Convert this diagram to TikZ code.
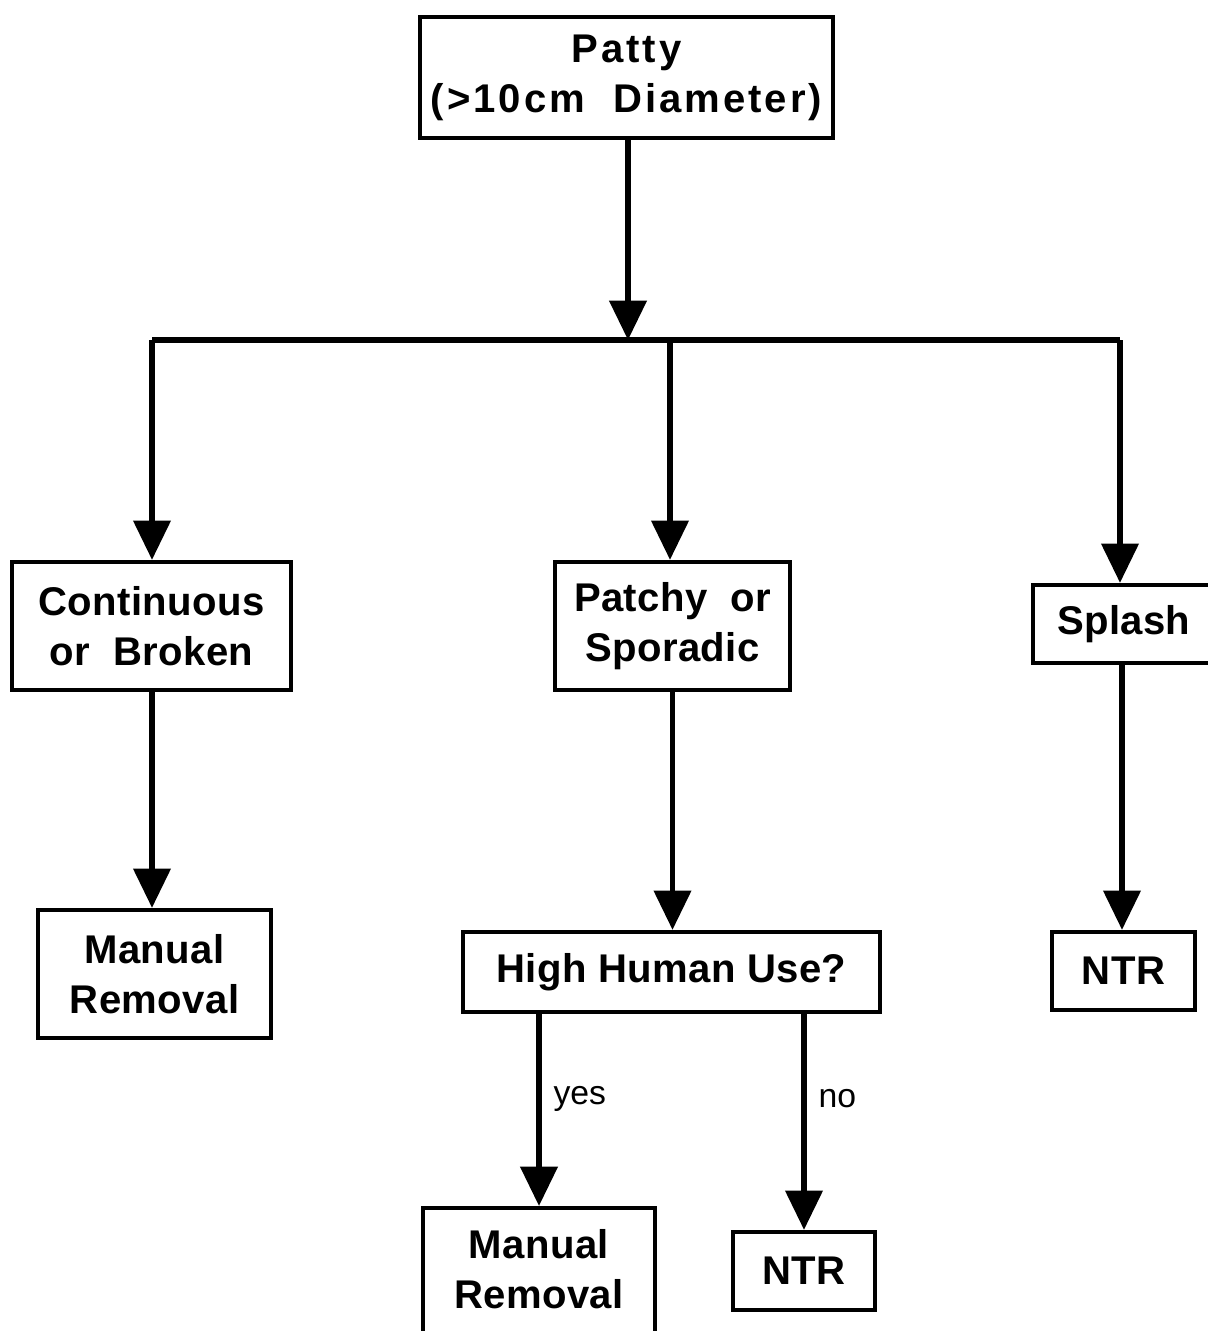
\documentclass[tikz,border=0pt]{standalone}
\usepackage{fontspec}
\setmainfont{Liberation Sans}[LetterSpace=1]
\newfontfamily\wideface{Liberation Sans}[LetterSpace=7.5]
\newfontfamily\labface{Liberation Sans}
\usetikzlibrary{arrows.meta,calc}
\begin{document}
\begin{tikzpicture}[x=0.025cm,y=-0.025cm,
  box/.style={draw,line width=3pt,inner sep=0pt,align=center,
    font=\bfseries\fontsize{28.5}{35.5}\selectfont},
  conn/.style={line width=4pt,-{Triangle[width=26pt,length=28pt]}},
  plain/.style={line width=4pt},
  lbl/.style={font=\labface\fontsize{24}{28}\selectfont}]
\clip (0,0) rectangle (1208,1331);
\useasboundingbox (0,0) rectangle (1208,1331);
\node[box,font=\wideface\bfseries\fontsize{28.5}{35.5}\selectfont,minimum width=413*0.025cm,minimum height=121*0.025cm] (patty) at (626.5,77.5) {Patty\\(>10cm~~Diameter)};
\node[box,minimum width=279*0.025cm,minimum height=128*0.025cm] (cont) at (151.5,626) {Continuous\\or~~Broken};
\node[box,minimum width=235*0.025cm,minimum height=128*0.025cm] (patchy) at (672.5,626) {Patchy~~or\\Sporadic};
\node[box,minimum width=200*0.025cm,minimum height=78*0.025cm,text width=200*0.025cm,align=left] (splash) at (1133,624) {\hspace*{0.6cm}Splash};
\node[box,minimum width=233*0.025cm,minimum height=128*0.025cm] (man1) at (154.5,974) {Manual\\Removal};
\node[box,minimum width=417*0.025cm,minimum height=80*0.025cm] (high) at (671.5,972) {High Human Use?};
\node[box,minimum width=143*0.025cm,minimum height=78*0.025cm] (ntr1) at (1123.5,971) {NTR};
\node[box,minimum width=232*0.025cm,minimum height=144*0.025cm,anchor=north] (man2) at (539,1206) {\\[-30pt]Manual\\Removal};
\node[box,minimum width=142*0.025cm,minimum height=78*0.025cm] (ntr2) at (804,1271) {NTR};
\coordinate (j) at (628,340);
\coordinate (jl) at (152,340);
\coordinate (jm) at (670,340);
\coordinate (jr) at (1120,340);
\draw[conn] (patty.south -| j) -- (j);
\draw[plain] (jl) -- (jr);
\draw[conn] (jl) -- (jl |- cont.north);
\draw[conn] (jm) -- (jm |- patchy.north);
\draw[conn] (jr) -- (jr |- splash.north);
\draw[conn] (cont.south -| jl) -- (jl |- man1.north);
\draw[conn] (patchy.south) -- (patchy.south |- high.north);
\draw[conn] (splash.south -| 1122,0) -- (ntr1.north -| 1122,0);
\draw[conn] (man2.north |- high.south) -- node[lbl,right=5pt,pos=0.44] (yes) {yes} (man2.north);
\draw[conn] (ntr2.north |- high.south) -- node[lbl,right=5pt,pos=0.39] (no) {no} (ntr2.north);
\end{tikzpicture}
\end{document}
